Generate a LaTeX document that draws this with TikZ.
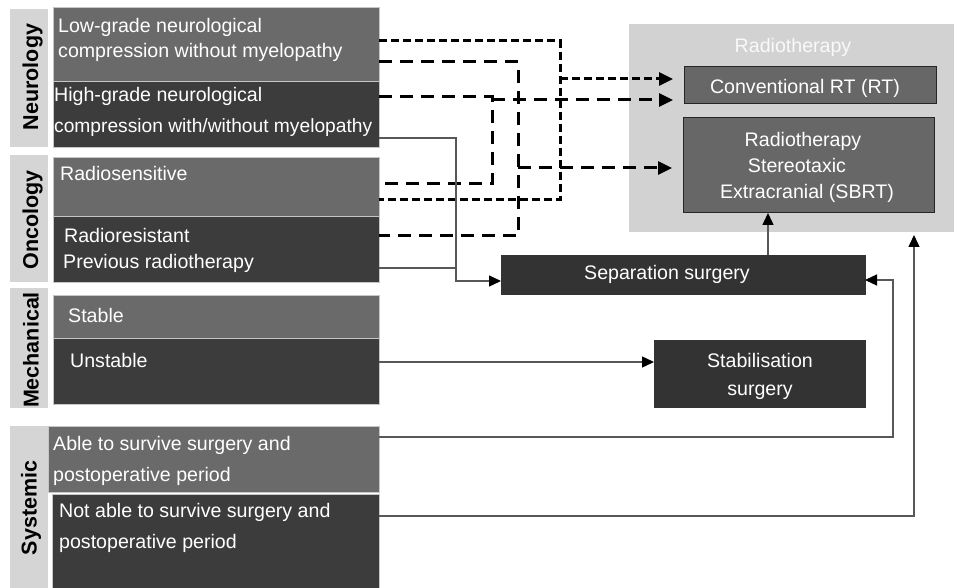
\documentclass[tikz,border=0pt]{standalone}
\usepackage{fontspec}
\setmainfont{Liberation Sans}
\usetikzlibrary{arrows.meta,calc}
\definecolor{midg}{HTML}{6A6A6A}
\definecolor{darkg}{HTML}{3C3C3C}
\definecolor{labg}{HTML}{D5D5D5}
\definecolor{rtg}{HTML}{D2D2D2}
\definecolor{boxg}{HTML}{676767}
\definecolor{surg}{HTML}{333333}
\definecolor{linec}{HTML}{585858}
\begin{document}
\begin{tikzpicture}[x=1pt,y=-1pt,
  box/.style={rectangle, inner sep=0pt, outer sep=0pt, anchor=north west},
  pan/.style={box, draw=gray!45, line width=0.7pt},
  ptxt/.style={anchor=base west, inner sep=0pt, text=white, font=\fontsize{19.6}{23}\selectfont},
  ctxt/.style={anchor=base, inner sep=0pt, text=white, font=\fontsize{19.6}{23}\selectfont},
  cat/.style={rotate=90, inner sep=0pt, font=\bfseries\fontsize{21.5}{24}\selectfont, text=black},
  fine/.style={line width=3pt, dash pattern=on 8pt off 4pt, black},
  longd/.style={line width=3pt, dash pattern=on 13pt off 8pt, black},
  dtip/.style={-{Triangle[length=14pt,width=13pt]}, shorten >=11pt},
  conn/.style={line width=1.4pt, linec},
  stip/.style={-{Triangle[length=12pt,width=11pt,color=black]}}]
\useasboundingbox (0,0) rectangle (954,588);
\fill[white] (0,0) rectangle (954,588);

% category labels
\node[box, fill=labg, minimum width=38, minimum height=138] (neuL) at (9.5,9.5) {};
\node[box, fill=labg, minimum width=38, minimum height=127] (oncL) at (9.5,155) {};
\node[box, fill=labg, minimum width=38, minimum height=120] (mecL) at (9.5,288) {};
\node[box, fill=labg, minimum width=38, minimum height=164] (sysL) at (9.5,426) {};
\node[cat] (neuT) at (32.5,77) {Neurology};
\node[cat] (oncT) at (32.5,220) {Oncology};
\node[cat] (mecT) at (31,350) {Mechanical};
\node[cat] (sysT) at (31,508) {Systemic};

% panels
\node[pan, fill=midg, minimum width=326, minimum height=74] (low) at (53,7) {};
\node[pan, fill=darkg, minimum width=326, minimum height=66] (high) at (53,81) {};
\node[pan, fill=midg, minimum width=326, minimum height=59] (rsens) at (53,157) {};
\node[pan, fill=darkg, minimum width=326, minimum height=66] (rres) at (53,216) {};
\node[pan, fill=midg, minimum width=326, minimum height=43] (stable) at (53,295) {};
\node[pan, fill=darkg, minimum width=326, minimum height=66] (unst) at (53,338) {};
\node[pan, fill=midg, minimum width=331, minimum height=66] (able) at (48,426) {};
\node[pan, fill=darkg, minimum width=327, minimum height=98] (notable) at (52,494) {};

\node[ptxt] (t1) at (58,33) {Low-grade neurological};
\node[ptxt] (t2) at (58,58) {compression without myelopathy};
\node[ptxt] (t3) at (54,102) {High-grade neurological};
\node[ptxt, font=\fontsize{19.2}{23}\selectfont] (t4) at (54,133) {compression with/without myelopathy};
\node[ptxt] (t5) at (60,181) {Radiosensitive};
\node[ptxt] (t6) at (64,243) {Radioresistant};
\node[ptxt] (t7) at (63,269) {Previous radiotherapy};
\node[ptxt] (t8) at (68,323) {Stable};
\node[ptxt] (t9) at (70,367) {Unstable};
\node[ptxt] (t10) at (53,450) {Able to survive surgery and};
\node[ptxt] (t11) at (53,481) {postoperative period};
\node[ptxt] (t12) at (59,517) {Not able to survive surgery and};
\node[ptxt] (t13) at (59,548) {postoperative period};

% right side
\node[box, fill=rtg, minimum width=327, minimum height=208] (rt) at (629,24) {};
\node[ctxt, text=white!95!gray] (rtT) at (793,53) {Radiotherapy};
\node[box, fill=boxg, draw=black!85, line width=1pt, minimum width=252, minimum height=37] (conv) at (684,67) {};
\node[ctxt] (convT) at (805,94) {Conventional RT (RT)};
\node[box, fill=boxg, draw=black!85, line width=1pt, minimum width=251, minimum height=95] (sbrt) at (683,118) {};
\node[ctxt] (s1) at (803,147) {Radiotherapy};
\node[ctxt] (s2) at (797,173) {Stereotaxic};
\node[ctxt] (s3) at (807,199) {Extracranial (SBRT)};
\node[box, fill=surg, draw=black!80, line width=0.8pt, minimum width=364, minimum height=39] (sep) at (501,255) {};
\node[ctxt] (sepT) at (667,280) {Separation surgery};
\node[box, fill=surg, draw=black!80, line width=0.8pt, minimum width=211, minimum height=67] (stab) at (654,340) {};
\node[ctxt] (st1) at (760,367) {Stabilisation};
\node[ctxt] (st2) at (760,395) {surgery};

% dashed connectors
\draw[fine] (low.east |- 0,41) -| (560,200) -- (rsens.east |- 0,200);
\coordinate (jA) at (560,79);
\draw[fine,dtip] (jA) -- (conv.west |- jA);
\draw[longd] (low.east |- 0,62) -| (518,236) -- (rres.east |- 0,236);
\coordinate (jB) at (518,168);
\draw[longd,dtip] (jB) -- (sbrt.west |- jB);
\draw[longd] (high.east |- 0,97) -| (492,184) -- (rsens.east |- 0,184);
\coordinate (jC) at (492,100);
\draw[longd,dtip] (jC) -- (conv.west |- jC);

% solid connectors
\draw[conn,stip] (high.east |- 0,138) -| (456,281) -- (sep.west |- 0,281);
\draw[conn] (rres.east |- 0,268) -- (456,268);
\draw[conn,stip] (unst.east |- 0,362) -- (stab.west |- 0,362);
\draw[conn,stip] (able.east |- 0,437) -| (893,280) -- (sep.east |- 0,280);
\draw[conn,stip,shorten >=3pt] (notable.east |- 0,516) -| (rt.south -| 914,0);
\draw[conn,stip] (sep.north -| 768,0) -- (sbrt.south -| 768,0);
\end{tikzpicture}
\end{document}
